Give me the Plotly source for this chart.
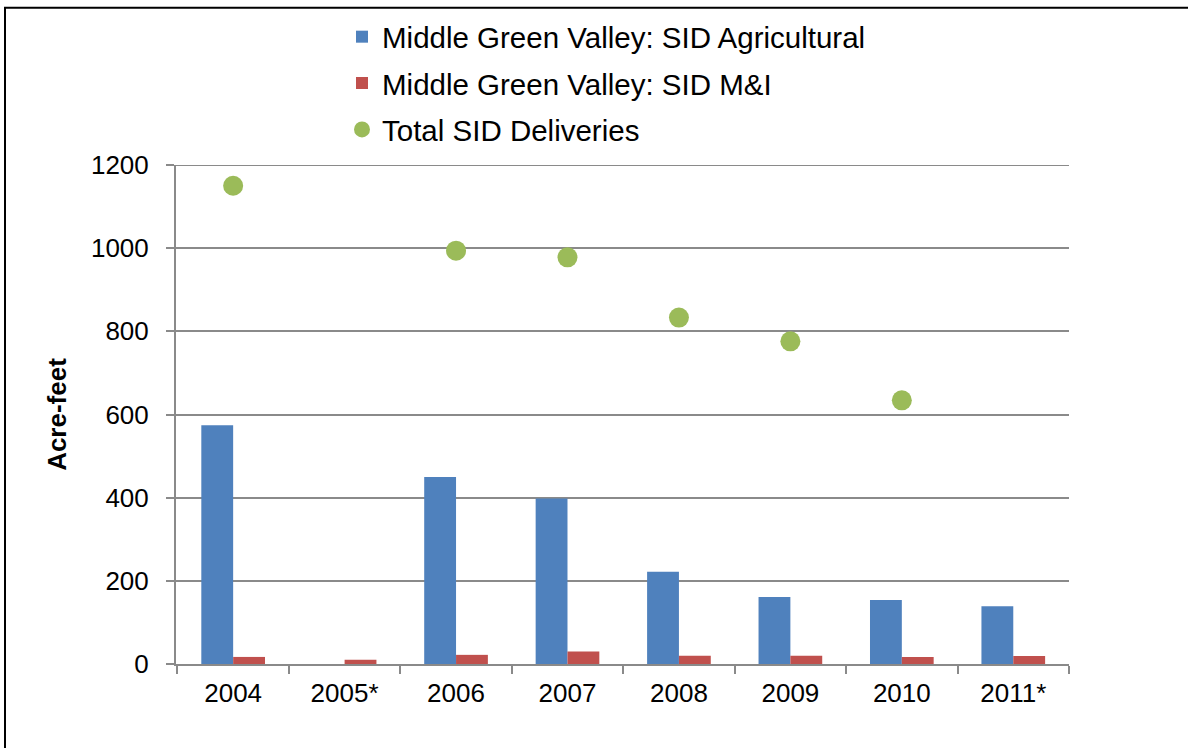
import plotly.graph_objects as go

years = ["2004", "2005*", "2006", "2007", "2008", "2009", "2010", "2011*"]
agricultural = [574, None, 450, 398, 222, 161, 154, 139]
mni = [17, 10, 22, 30, 20, 20, 17, 19]
total_years = ["2004", "2006", "2007", "2008", "2009", "2010"]
total = [1150, 994, 978, 833, 776, 634]
y_ticks = [0, 200, 400, 600, 800, 1000, 1200]

W, H = 1188, 748
L, R, T, B = 176, 1069, 164, 664
GRID = "#8a8a8a"

fig = go.Figure()
fig.add_trace(go.Bar(x=years, y=agricultural, name="Middle Green Valley: SID Agricultural",
                     marker=dict(color="#4F81BD", line=dict(width=0)), legendgroup="a"))
fig.add_trace(go.Bar(x=years, y=mni, name="Middle Green Valley: SID M&I",
                     marker=dict(color="#C0504D", line=dict(width=0)), legendgroup="b"))
fig.add_trace(go.Scatter(x=total_years, y=total, mode="markers", name="Total SID Deliveries",
                         marker=dict(color="#9BBB59", size=20), legendgroup="c"))

def px(xp):
    return (xp - L) / (R - L)

def py(yp):
    return (B - yp) / (B - T)

fig.update_layout(
    width=W, height=H,
    margin=dict(l=L, r=W - R, t=T, b=H - B, pad=0),
    paper_bgcolor="white", plot_bgcolor="white",
    font=dict(family="Liberation Sans, Arial, sans-serif", size=26, color="black"),
    barmode="group", bargap=0.4286, bargroupgap=0,
    showlegend=True,
    legend=dict(x=px(342), y=py(11), xanchor="left", yanchor="top",
                orientation="v", traceorder="grouped", tracegroupgap=5,
                font=dict(size=29.5), bgcolor="rgba(0,0,0,0)", itemwidth=30),
    xaxis=dict(type="category", categoryorder="array", categoryarray=years,
               showline=True, linecolor=GRID, linewidth=2,
               ticks="outside", tickson="boundaries", ticklen=8, tickcolor=GRID, tickwidth=2,
               showgrid=False, tickfont=dict(size=26), ticklabelstandoff=5, fixedrange=True),
    yaxis=dict(range=[0, 1200], tickvals=y_ticks, showline=True, linecolor=GRID, linewidth=2,
               ticks="outside", ticklen=8, tickcolor=GRID, tickwidth=2,
               showgrid=True, gridcolor=GRID, gridwidth=2, zeroline=False,
               tickfont=dict(size=26), ticklabelstandoff=12,
               title=dict(text="<b>Acre-feet</b>", font=dict(size=26), standoff=17)),
    shapes=[
        dict(type="line", xref="paper", yref="y", x0=0, x1=1, y0=1200, y1=1200,
             line=dict(color=GRID, width=2), layer="below"),
        dict(type="rect", xref="paper", yref="paper",
             x0=px(5), x1=px(1200), y0=py(770), y1=py(6.5),
             line=dict(color="black", width=2), fillcolor="rgba(0,0,0,0)", layer="above"),
    ],
)

fig.write_html("out.html", config={"displayModeBar": False},
               post_script="document.body.style.margin='0';document.body.style.overflow='hidden';")
